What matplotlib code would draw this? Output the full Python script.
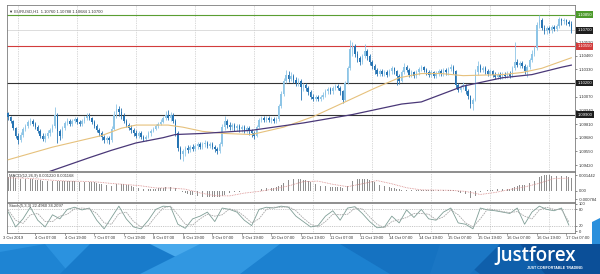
import numpy as np
import matplotlib
matplotlib.use('Agg')
import matplotlib.pyplot as plt
import matplotlib.transforms as mtransforms
from matplotlib.patches import Polygon

plt.rcParams['font.family'] = ['Liberation Sans', 'DejaVu Sans']

# ---- EURUSD H1, values ----
first_open = 1.0991
close = [
    1.0988, 1.0984, 1.0977, 1.0970, 1.0966, 1.0971, 1.0976, 1.0979, 1.0983, 1.0984,
    1.0981, 1.0978, 1.0974, 1.0970, 1.0967, 1.0970, 1.0972, 1.0975, 1.0979, 1.0990,
    1.0974, 1.0970, 1.0977, 1.0982, 1.0984, 1.0981, 1.0984, 1.0986, 1.0983, 1.0981,
    1.0984, 1.0987, 1.0989, 1.0987, 1.0983, 1.0979, 1.0975, 1.0972, 1.0969, 1.0966,
    1.0968, 1.0966, 1.0976, 1.0990, 1.0995, 1.0992, 1.0989, 1.0984, 1.0980, 1.0977,
    1.0975, 1.0972, 1.0970, 1.0972, 1.0969, 1.0967, 1.0969, 1.0972, 1.0974, 1.0976,
    1.0979, 1.0981, 1.0983, 1.0987, 1.0990, 1.0987, 1.0990, 1.0984, 1.0972, 1.0958,
    1.0952, 1.0955, 1.0958, 1.0956, 1.0959, 1.0957, 1.0960, 1.0962, 1.0959, 1.0962,
    1.0963, 1.0960, 1.0962, 1.0959, 1.0957, 1.0955, 1.0962, 1.0978, 1.0984, 1.0980,
    1.0978, 1.0980, 1.0977, 1.0979, 1.0976, 1.0978, 1.0975, 1.0977, 1.0974, 1.0972,
    1.0970, 1.0978, 1.0985, 1.0987, 1.0985, 1.0987, 1.0985, 1.0986, 1.0984, 1.0986,
    1.0998, 1.1010, 1.1022, 1.1028, 1.1024, 1.1027, 1.1023, 1.1020, 1.1022, 1.1016,
    1.1018, 1.1015, 1.1011, 1.1007, 1.1005, 1.1007, 1.1005, 1.1007, 1.1009, 1.1012,
    1.1014, 1.1012, 1.1015, 1.1017, 1.1015, 1.1012, 1.1004, 1.1020, 1.1034, 1.1052,
    1.1055, 1.1048, 1.1044, 1.1040, 1.1046, 1.1050, 1.1046, 1.1040, 1.1036, 1.1032,
    1.1029, 1.1031, 1.1029, 1.1030, 1.1028, 1.1031, 1.1034, 1.1031, 1.1027, 1.1022,
    1.1030, 1.1035, 1.1032, 1.1028, 1.1030, 1.1027, 1.1030, 1.1033, 1.1035, 1.1032,
    1.1030, 1.1028, 1.1030, 1.1027, 1.1029, 1.1031, 1.1029, 1.1032, 1.1030, 1.1033,
    1.1035, 1.1031, 1.1018, 1.1013, 1.1016, 1.1018, 1.1012, 1.1008, 1.1000, 1.1004,
    1.1030, 1.1036, 1.1032, 1.1034, 1.1031, 1.1029, 1.1031, 1.1028, 1.1026, 1.1028,
    1.1026, 1.1028, 1.1027, 1.1029, 1.1027, 1.1034, 1.1040, 1.1037, 1.1039, 1.1036,
    1.1031, 1.1035, 1.1042, 1.1048, 1.1053, 1.1075, 1.1080, 1.1072, 1.1069, 1.1072,
    1.1070, 1.1073, 1.1071, 1.1074, 1.1081, 1.1079, 1.1080, 1.1078, 1.1076, 1.1070,
]
high = [
    1.0992, 1.0989, 1.0985, 1.0978, 1.0972, 1.0973, 1.0978, 1.0981, 1.0985, 1.0987,
    1.0986, 1.0983, 1.0980, 1.0976, 1.0972, 1.0972, 1.0975, 1.0977, 1.0981, 1.0997,
    1.0991, 1.0976, 1.0979, 1.0984, 1.0987, 1.0986, 1.0986, 1.0988, 1.0988, 1.0985,
    1.0986, 1.0989, 1.0991, 1.0991, 1.0988, 1.0985, 1.0981, 1.0977, 1.0974, 1.0971,
    1.0970, 1.0970, 1.0979, 1.0993, 1.1000, 1.0998, 1.0996, 1.0991, 1.0986, 1.0982,
    1.0980, 1.0977, 1.0975, 1.0974, 1.0974, 1.0971, 1.0971, 1.0974, 1.0976, 1.0978,
    1.0981, 1.0983, 1.0986, 1.0989, 1.0993, 1.0994, 1.0992, 1.0991, 1.0986, 1.0974,
    1.0960, 1.0957, 1.0960, 1.0961, 1.0961, 1.0962, 1.0962, 1.0964, 1.0964, 1.0964,
    1.0966, 1.0965, 1.0964, 1.0964, 1.0961, 1.0959, 1.0964, 1.0981, 1.0989, 1.0986,
    1.0983, 1.0982, 1.0982, 1.0981, 1.0981, 1.0980, 1.0980, 1.0979, 1.0979, 1.0976,
    1.0974, 1.0980, 1.0987, 1.0989, 1.0989, 1.0989, 1.0989, 1.0988, 1.0988, 1.0988,
    1.1000, 1.1012, 1.1025, 1.1032, 1.1031, 1.1030, 1.1029, 1.1026, 1.1025, 1.1024,
    1.1020, 1.1020, 1.1017, 1.1013, 1.1010, 1.1009, 1.1009, 1.1009, 1.1011, 1.1014,
    1.1016, 1.1016, 1.1017, 1.1019, 1.1019, 1.1017, 1.1013, 1.1022, 1.1036, 1.1061,
    1.1059, 1.1057, 1.1050, 1.1046, 1.1048, 1.1057, 1.1052, 1.1048, 1.1042, 1.1038,
    1.1034, 1.1033, 1.1033, 1.1032, 1.1032, 1.1033, 1.1036, 1.1035, 1.1032, 1.1029,
    1.1032, 1.1039, 1.1037, 1.1034, 1.1032, 1.1031, 1.1032, 1.1035, 1.1037, 1.1036,
    1.1034, 1.1032, 1.1032, 1.1031, 1.1031, 1.1033, 1.1033, 1.1034, 1.1034, 1.1035,
    1.1038, 1.1037, 1.1032, 1.1020, 1.1018, 1.1021, 1.1019, 1.1014, 1.1009, 1.1006,
    1.1033, 1.1041, 1.1038, 1.1036, 1.1036, 1.1033, 1.1033, 1.1032, 1.1030, 1.1030,
    1.1030, 1.1030, 1.1030, 1.1031, 1.1031, 1.1036, 1.1059, 1.1043, 1.1041, 1.1041,
    1.1038, 1.1037, 1.1044, 1.1051, 1.1055, 1.1078, 1.1085, 1.1082, 1.1075, 1.1074,
    1.1074, 1.1075, 1.1075, 1.1076, 1.1083, 1.1082, 1.1082, 1.1081, 1.1080, 1.1079,
]
low = [
    1.0985, 1.0982, 1.0975, 1.0968, 1.0962, 1.0964, 1.0969, 1.0974, 1.0977, 1.0980,
    1.0979, 1.0976, 1.0972, 1.0968, 1.0965, 1.0964, 1.0968, 1.0970, 1.0973, 1.0977,
    1.0963, 1.0966, 1.0968, 1.0975, 1.0980, 1.0979, 1.0979, 1.0982, 1.0981, 1.0979,
    1.0979, 1.0982, 1.0985, 1.0985, 1.0981, 1.0977, 1.0973, 1.0970, 1.0966, 1.0963,
    1.0963, 1.0962, 1.0964, 1.0975, 1.0987, 1.0989, 1.0986, 1.0982, 1.0978, 1.0975,
    1.0972, 1.0970, 1.0968, 1.0968, 1.0967, 1.0965, 1.0965, 1.0968, 1.0970, 1.0973,
    1.0975, 1.0977, 1.0980, 1.0982, 1.0985, 1.0985, 1.0984, 1.0982, 1.0970, 1.0955,
    1.0948, 1.0946, 1.0951, 1.0953, 1.0954, 1.0955, 1.0955, 1.0957, 1.0957, 1.0957,
    1.0959, 1.0958, 1.0958, 1.0957, 1.0954, 1.0952, 1.0953, 1.0960, 1.0975, 1.0977,
    1.0975, 1.0975, 1.0974, 1.0974, 1.0973, 1.0973, 1.0972, 1.0972, 1.0971, 1.0969,
    1.0967, 1.0969, 1.0977, 1.0983, 1.0983, 1.0983, 1.0983, 1.0982, 1.0982, 1.0982,
    1.0984, 1.0996, 1.1008, 1.1020, 1.1021, 1.1022, 1.1020, 1.1017, 1.1017, 1.1004,
    1.1012, 1.1012, 1.1009, 1.1005, 1.1003, 1.1003, 1.1003, 1.1003, 1.1005, 1.1007,
    1.1010, 1.1010, 1.1010, 1.1013, 1.1013, 1.1009, 1.1001, 1.1003, 1.1019, 1.1032,
    1.1046, 1.1045, 1.1040, 1.1037, 1.1038, 1.1044, 1.1042, 1.1037, 1.1033, 1.1029,
    1.1027, 1.1027, 1.1027, 1.1027, 1.1026, 1.1027, 1.1029, 1.1029, 1.1018, 1.1019,
    1.1021, 1.1029, 1.1030, 1.1026, 1.1026, 1.1025, 1.1025, 1.1028, 1.1031, 1.1030,
    1.1028, 1.1026, 1.1026, 1.1025, 1.1025, 1.1027, 1.1027, 1.1027, 1.1028, 1.1028,
    1.1031, 1.1029, 1.1015, 1.1011, 1.1011, 1.1014, 1.1010, 1.1005, 1.0996, 1.0994,
    1.1003, 1.1028, 1.1030, 1.1030, 1.1029, 1.1027, 1.1027, 1.1026, 1.1024, 1.1024,
    1.1024, 1.1024, 1.1025, 1.1025, 1.1025, 1.1026, 1.1032, 1.1035, 1.1034, 1.1034,
    1.1029, 1.1026, 1.1033, 1.1040, 1.1046, 1.1051, 1.1072, 1.1070, 1.1067, 1.1067,
    1.1068, 1.1068, 1.1069, 1.1069, 1.1072, 1.1075, 1.1076, 1.1075, 1.1074, 1.1068,
]

# moving averages: bar index -> value
ma_fast_bars = [0, 18, 38, 46, 52, 65, 71, 79, 88, 99, 112, 124, 137, 149, 159, 168, 176, 185, 201, 209, 217, 229]
ma_fast = [1.0947, 1.0959, 1.0970, 1.0977, 1.0980, 1.0980, 1.0978, 1.0974, 1.0972, 1.0971, 1.0978,
           1.0988, 1.1002, 1.1015, 1.1025, 1.1029, 1.1029, 1.1027, 1.1028, 1.1030, 1.1034, 1.1044]
ma_slow_bars = [0, 17, 33, 42, 52, 63, 68, 79, 99, 120, 140, 160, 168, 185, 201, 213, 225, 229]
ma_slow = [1.0922, 1.0936, 1.0949, 1.0956, 1.0963, 1.0968, 1.0971, 1.0972, 1.0975, 1.0982,
           1.0990, 1.1000, 1.1002, 1.1017, 1.1025, 1.1028, 1.1035, 1.1037]

level_prices = [1.10850, 1.10550, 1.10200, 1.09900]
price_ticks = [1.09420, 1.09550, 1.09680, 1.09810, 1.09940, 1.10070, 1.10330, 1.10460, 1.10590]

# MACD main (x1e-4), one per bar
macd = [
    12.5, 12.8, 12.6, 12.2, 11.6, 11.2, 11.0, 10.9, 10.9, 10.8,
    10.6, 10.3, 10.0, 9.6, 9.2, 9.0, 8.9, 8.9, 9.0, 9.6,
    9.2, 8.8, 8.7, 8.8, 8.9, 8.8, 8.8, 8.9, 8.8, 8.6,
    8.5, 8.5, 8.6, 8.5, 8.2, 7.8, 7.2, 6.6, 6.0, 5.4,
    5.0, 4.6, 4.8, 5.6, 6.2, 6.4, 6.4, 6.1, 5.6, 5.0,
    4.4, 3.8, 3.2, 2.8, 2.4, 2.0, 1.8, 1.7, 1.7, 1.8,
    2.0, 2.2, 2.5, 2.9, 3.3, 3.4, 3.6, 3.3, 2.4, 1.0,
    -0.4, -1.4, -2.2, -3.0, -3.6, -4.2, -4.6, -4.8, -5.2, -5.4,
    -5.5, -5.6, -5.6, -5.8, -6.0, -6.2, -5.9, -4.8, -3.6, -2.8,
    -2.2, -1.6, -1.3, -0.9, -0.7, -0.4, -0.3, -0.1, -0.1, -0.2,
    -0.3, 0.1, 0.8, 1.5, 1.9, 2.3, 2.6, 2.8, 2.9, 3.1,
    4.0, 5.4, 7.2, 8.8, 9.8, 10.6, 11.0, 11.1, 11.1, 10.6,
    10.2, 9.6, 8.8, 7.8, 6.8, 6.0, 5.2, 4.6, 4.2, 4.0,
    3.9, 3.7, 3.7, 3.8, 3.7, 3.4, 2.6, 3.2, 4.8, 7.2,
    9.2, 10.2, 10.8, 10.8, 11.0, 11.2, 10.9, 10.2, 9.2, 8.0,
    6.8, 5.8, 5.0, 4.3, 3.7, 3.3, 3.0, 2.6, 2.0, 1.2,
    1.0, 1.2, 1.1, 0.8, 0.7, 0.5, 0.5, 0.6, 0.8, 0.8,
    0.7, 0.6, 0.6, 0.4, 0.4, 0.4, 0.3, 0.4, 0.3, 0.4,
    0.6, 0.4, -0.6, -1.6, -2.2, -2.6, -3.4, -4.4, -7.0, -7.8,
    -5.2, -2.8, -1.6, -0.6, 0.0, 0.5, 0.9, 1.1, 1.3, 1.5,
    1.6, 1.7, 1.8, 1.9, 2.0, 2.6, 3.6, 4.3, 5.0, 5.4,
    5.5, 5.8, 6.8, 8.0, 9.2, 11.4, 13.2, 14.0, 14.4, 14.4,
    14.3, 14.2, 14.1, 14.0, 14.2, 14.1, 13.8, 13.4, 12.8, 12.2,
]
# MACD signal (x1e-4), every 6 bars
macd_signal = [12.0, 11.8, 11.0, 9.8, 9.0, 8.8, 8.2, 6.8, 5.8, 4.6, 2.6, 2.6, 1.5, -2.0, -4.6,
               -4.8, -2.2, -0.6, 1.6, 4.5, 8.5, 9.0, 6.0, 3.8, 6.5, 9.5, 6.5, 2.8, 0.8, 0.6,
               0.4, -0.6, -3.5, -1.6, 1.2, 3.5, 7.0, 11.5, 11.7]

# Stochastic %K / %D, every 3 bars
stoch_k = [70, 15, 45, 88, 40, 15, 60, 45, 80, 88,
           78, 85, 40, 8, 50, 92, 45, 15, 8, 40,
           80, 92, 90, 25, 10, 45, 55, 70, 35, 85,
           80, 70, 40, 20, 80, 88, 85, 92, 88, 55,
           35, 15, 20, 55, 75, 40, 85, 90, 65, 35,
           12, 15, 55, 30, 78, 50, 80, 45, 40, 70,
           85, 30, 25, 8, 85, 78, 75, 70, 65, 85,
           25, 70, 92, 80, 75, 85, 22]
stoch_d = [78, 40, 28, 60, 65, 35, 35, 55, 62, 82,
           85, 82, 65, 30, 25, 65, 70, 35, 15, 20,
           55, 85, 92, 60, 25, 22, 45, 62, 55, 60,
           82, 75, 55, 30, 45, 80, 88, 88, 90, 75,
           48, 25, 15, 35, 62, 60, 62, 85, 82, 52,
           25, 12, 35, 42, 50, 65, 65, 62, 42, 52,
           78, 60, 30, 15, 45, 82, 78, 72, 68, 72,
           55, 45, 78, 88, 80, 80, 34]

time_labels = ['3 Oct 2019', '4 Oct 07:00', '4 Oct 19:00', '7 Oct 07:00', '7 Oct 19:00',
               '8 Oct 07:00', '8 Oct 19:00', '9 Oct 07:00', '9 Oct 19:00', '10 Oct 07:00',
               '10 Oct 19:00', '11 Oct 07:00', '11 Oct 19:00', '14 Oct 07:00', '14 Oct 19:00',
               '15 Oct 07:00', '15 Oct 19:00', '16 Oct 07:00', '16 Oct 19:00', '17 Oct 07:00']

# ---- figure ----
W, H = 600, 274
fig = plt.figure(figsize=(6, 2.74), dpi=100, facecolor='white')


def rect(x0, y0, x1, y1):
    return [x0 / W, 1 - y1 / H, (x1 - x0) / W, (y1 - y0) / H]


ax = fig.add_axes(rect(7, 5, 575, 171))
ax_m = fig.add_axes(rect(7, 172, 575, 202))
ax_s = fig.add_axes(rect(7, 203, 575, 233))

n = len(close)
bars = np.arange(n)
xlim = (-0.5, n + 0.5)
FS = 3.0
GRID = '#b5b5b5'

for a in (ax, ax_m, ax_s):
    a.set_xlim(*xlim)
    a.set_xticks([])
    for s in a.spines.values():
        s.set_color('#7c7c7c')
        s.set_linewidth(0.6)
    a.yaxis.tick_right()
    a.tick_params(axis='y', length=1.5, width=0.4, pad=1, labelsize=FS, colors='#333333')
    for g in range(4, n, 24):
        a.axvline(g, color=GRID, lw=0.5, ls=(0, (1, 1.5)), zorder=0)

# candles
c = np.array(close)
o = np.array([first_open] + close[:-1])
hi = np.maximum(np.array(high), np.maximum(o, c))
lo = np.minimum(np.array(low), np.minimum(o, c))
up = c >= o
for mask, col in ((up, '#8ec5e6'), (~up, '#2674b3')):
    ax.vlines(bars[mask], lo[mask], hi[mask], color=col, lw=0.6, zorder=3)
    ax.bar(bars[mask], np.maximum(np.abs(c[mask] - o[mask]), 0.00003),
           bottom=np.minimum(o[mask], c[mask]), width=0.6, color=col, lw=0, zorder=3)

ax.plot(ma_fast_bars, ma_fast, color='#e6c17c', lw=0.8, zorder=4)
ax.plot(ma_slow_bars, ma_slow, color='#4a3878', lw=0.9, zorder=4)

level_colors = ['#5a9e32', '#d23c3c', '#333333', '#333333']
for p, col in zip(level_prices, level_colors):
    ax.axhline(p, color=col, lw=0.8, zorder=2)
ax.axhline(close[-1], color='#cfcfcf', lw=0.5, zorder=1)

ax.set_ylim(1.09363, 1.10942)
ax.set_yticks(price_ticks)
ax.set_yticklabels(['%.5f' % t for t in price_ticks])

ytr = ax.get_yaxis_transform()
box_prices = level_prices + [close[-1]]
box_colors = ['#4c9a2a', '#d23c3c', '#1e1e1e', '#1e1e1e', '#1e1e1e']
for p, col in zip(box_prices, box_colors):
    ax.text(1.004, p, '%.5f' % p, transform=ytr, fontsize=FS, color='white', va='center', ha='left',
            bbox=dict(boxstyle='square,pad=0.35', fc=col, ec='none'), zorder=6, clip_on=False)

ax.text(0.004, 0.975, '\u25bc EURUSD,H1  1.10760 1.10788 1.10684 1.10700', transform=ax.transAxes,
        fontsize=FS, color='#333333', va='top', ha='left')

# MACD
ax_m.bar(bars, np.array(macd) * 1e-4, width=0.3, color='#8f8f8f', lw=0, zorder=2)
ax_m.plot(range(0, n, 6), np.array(macd_signal) * 1e-4, color='#d98c8c', lw=0.6, ls=(0, (1, 1)), zorder=3)
ax_m.set_ylim(-0.00105, 0.00175)
ax_m.set_yticks([0.001442, 0.0, -0.000784])
ax_m.set_yticklabels(['0.001442', '0.00', '-0.000784'])
ax_m.text(0.004, 0.95, 'MACD(12,26,9) 0.001220 0.001168', transform=ax_m.transAxes,
          fontsize=FS, color='#333333', va='top', ha='left')

# Stochastic
ax_s.plot(range(0, n, 3), stoch_k, color='#7f9e96', lw=0.6, zorder=3)
ax_s.plot(range(0, n, 3), stoch_d, color='#a8a8a8', lw=0.6, ls=(0, (2, 1)), zorder=3)
for lv in (20, 80):
    ax_s.axhline(lv, color='#9a9a9a', lw=0.4, ls=(0, (2, 2)), zorder=1)
ax_s.set_ylim(-7.4, 103.7)
ax_s.set_yticks([100, 80, 20, 0])
ax_s.set_yticklabels(['100', '80', '20', '0'])
ax_s.text(0.004, 0.95, 'Stoch(5,3,3) 22.4960 34.2097', transform=ax_s.transAxes,
          fontsize=FS, color='#333333', va='top', ha='left')

# time axis
btr = mtransforms.blended_transform_factory(ax_s.transData, ax_s.transAxes)
label_bars = [-2.0] + [11 + 12 * k for k in range(len(time_labels) - 1)]
for b, lab in zip(label_bars, time_labels):
    ax_s.text(b, -0.1, lab, transform=btr, fontsize=FS, color='#333333', ha='left', va='top', clip_on=False)
    if b >= 0:
        ax_s.plot([b, b], [0, -0.06], transform=btr, color='#555555', lw=0.4, clip_on=False)

# bottom banner
axb = fig.add_axes(rect(0, 244, 600, 274))
axb.set_xlim(0, 600)
axb.set_ylim(30, 0)
axb.axis('off')
axb.add_patch(Polygon([(0, 0), (600, 0), (600, 30), (0, 30)], fc='#0f5fab', ec='none'))
facets = [
    ([(0, 0), (140, 0), (95, 30), (0, 30)], '#2b92df'),
    ([(0, 8), (45, 0), (70, 30), (0, 30)], '#1e84d3'),
    ([(90, 0), (200, 0), (165, 30), (60, 30)], '#187bcb'),
    ([(150, 0), (230, 0), (190, 20)], '#48a9ec'),
    ([(200, 0), (310, 0), (260, 30), (140, 30)], '#3197e1'),
    ([(280, 0), (370, 0), (420, 30), (240, 30)], '#1c81d0'),
    ([(340, 0), (440, 0), (480, 30), (390, 30)], '#1572c1'),
    ([(440, 0), (500, 0), (470, 30), (430, 30)], '#1a76c4'),
    ([(520, 0), (600, 0), (600, 30), (545, 30)], '#0b4f98'),
]
for pts, col in facets:
    axb.add_patch(Polygon(pts, fc=col, ec='none'))

fig.text(536 / W, 1 - 256 / H, 'Justforex', fontsize=13.5, color='white', ha='center', va='center',
         family=['Open Sans', 'DejaVu Sans'], weight='semibold')
fig.text(555 / W, 1 - 268 / H, 'JUST COMFORTABLE TRADING', fontsize=2.6, color='white', ha='center',
         va='center', weight='bold')

# small blue tab at the right edge
fig.patches.append(Polygon([(592 / W, 1 - 222 / H), (600 / W, 1 - 218 / H), (600 / W, 1 - 244 / H),
                            (592 / W, 1 - 244 / H)], closed=True, transform=fig.transFigure,
                           fc='#2a8fdc', ec='none'))

fig.savefig('out.png', dpi=100, facecolor='white')
